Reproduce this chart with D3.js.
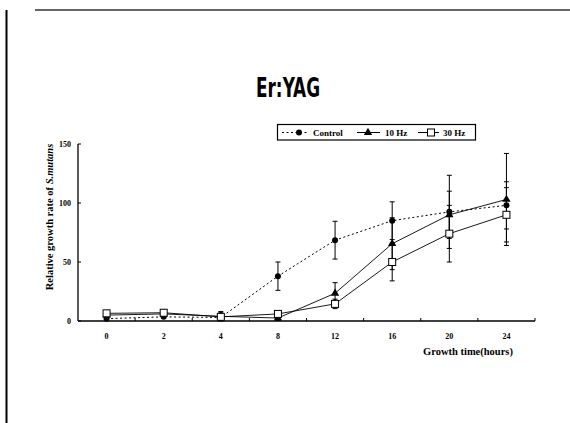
<!DOCTYPE html>
<html lang="en">
<head>
    <meta charset="UTF-8">
    <title>Er:YAG</title>
    <script src="https://d3js.org/d3.v7.min.js"></script>
    <style>
        body { margin: 0; padding: 0; background: #fff; }
        svg { display: block; }
        .tick-label { font-family: "Liberation Serif", serif; font-weight: bold; font-size: 8px; }
        .axis-title { font-family: "Liberation Serif", serif; font-weight: bold; font-size: 10.5px; }
        .legend-text { font-family: "Liberation Serif", serif; font-weight: bold; font-size: 9px; }
    </style>
</head>
<body>
    <div id="chart"></div>

    <script>
        const width = 570;
        const height = 423;

        // data
        const hours = ["0", "2", "4", "8", "12", "16", "20", "24"];
        const control = [2, 3.5, 3, 38, 68.5, 85, 92.5, 98];
        const controlErr = [1, 1, 5, 12, 16, 16, 31, 20];
        const hz10 = [5, 6, 4, 2.5, 23.5, 65.5, 90, 103];
        const hz10Err = [1, 1, 3, 2, 9, 22, 20, 39];
        const hz30 = [6.5, 7, 3.5, 6, 14.5, 50, 74, 90];
        const hz30Err = [1, 1, 2, 1, 4, 16, 24, 23];
        const yTicks = [0, 50, 100, 150];

        const svg = d3.select("#chart")
            .append("svg")
            .attr("width", width)
            .attr("height", height);

        // page frame
        svg.append("line").attr("x1", 35).attr("x2", width).attr("y1", 10).attr("y2", 10)
            .attr("stroke", "#333").attr("stroke-width", 1.5);
        svg.append("line").attr("x1", 6.5).attr("x2", 6.5).attr("y1", 10).attr("y2", height)
            .attr("stroke", "#000").attr("stroke-width", 2);

        // title
        svg.append("text")
            .attr("x", 288).attr("y", 97)
            .attr("text-anchor", "middle")
            .style("font-family", "'Liberation Sans Narrow', 'DejaVu Sans Condensed', sans-serif")
            .style("font-weight", "bold")
            .style("font-size", "26px")
            .attr("textLength", 64)
            .attr("lengthAdjust", "spacingAndGlyphs")
            .text("Er:YAG");

        const x = d3.scaleBand().domain(hours).range([78, 535]);
        const y = d3.scaleLinear().domain([0, 150]).range([321, 144]);
        const cx = d => x(d) + x.bandwidth() / 2;

        // axes
        const g = svg.append("g");
        g.append("line").attr("x1", 78).attr("x2", 535).attr("y1", y(0)).attr("y2", y(0))
            .attr("stroke", "#000").attr("stroke-width", 1.3);
        g.append("line").attr("x1", 78).attr("x2", 78).attr("y1", y(0)).attr("y2", y(150))
            .attr("stroke", "#000").attr("stroke-width", 1.3);

        // x ticks at the band boundaries
        g.selectAll(".xt").data(hours).enter().append("line")
            .attr("x1", d => x(d) + x.bandwidth()).attr("x2", d => x(d) + x.bandwidth())
            .attr("y1", y(0)).attr("y2", y(0) - 3)
            .attr("stroke", "#000");
        g.selectAll(".xl").data(hours).enter().append("text")
            .attr("class", "tick-label")
            .attr("x", cx).attr("y", 339)
            .attr("text-anchor", "middle")
            .text(d => d);

        g.selectAll(".yt").data(yTicks).enter().append("line")
            .attr("x1", 78).attr("x2", 81)
            .attr("y1", d => y(d)).attr("y2", d => y(d))
            .attr("stroke", "#000");
        g.selectAll(".yl").data(yTicks).enter().append("text")
            .attr("class", "tick-label")
            .attr("x", 71).attr("y", d => y(d) + 3)
            .attr("text-anchor", "end")
            .text(d => d);

        // axis titles
        const yTitle = svg.append("text")
            .attr("class", "axis-title")
            .attr("transform", "translate(53,217) rotate(-90)")
            .attr("text-anchor", "middle");
        yTitle.append("tspan").text("Relative growth rate of ");
        yTitle.append("tspan").style("font-style", "italic").text("S.mutans");

        svg.append("text")
            .attr("class", "axis-title")
            .attr("x", 468).attr("y", 355)
            .attr("text-anchor", "middle")
            .text("Growth time(hours)");

        const series = [
            { name: "Control", values: control, err: controlErr, dash: "2,2.5", marker: "circle" },
            { name: "10 Hz", values: hz10, err: hz10Err, dash: null, marker: "triangle" },
            { name: "30 Hz", values: hz30, err: hz30Err, dash: null, marker: "square" }
        ];

        const line = d3.line().x(d => cx(d.h)).y(d => y(d.v));

        function drawMarker(sel, type, px, py) {
            if (type === "circle") {
                sel.append("circle").attr("cx", px).attr("cy", py).attr("r", 3).attr("fill", "#000");
            } else if (type === "triangle") {
                sel.append("path")
                    .attr("d", d3.symbol().type(d3.symbolTriangle).size(30)())
                    .attr("transform", `translate(${px},${py})`)
                    .attr("fill", "#000");
            } else {
                sel.append("rect").attr("x", px - 3.5).attr("y", py - 3.5)
                    .attr("width", 7).attr("height", 7)
                    .attr("fill", "#fff").attr("stroke", "#000").attr("stroke-width", 1);
            }
        }

        series.forEach(s => {
            const pts = hours.map((h, i) => ({ h: h, v: s.values[i], e: s.err[i] }));
            const sg = svg.append("g");

            // error bars
            pts.forEach(p => {
                const px = cx(p.h);
                sg.append("line").attr("x1", px).attr("x2", px)
                    .attr("y1", y(p.v + p.e)).attr("y2", y(Math.max(0, p.v - p.e)))
                    .attr("stroke", "#000").attr("stroke-width", 1);
                [p.v + p.e, Math.max(0, p.v - p.e)].forEach(v => {
                    sg.append("line").attr("x1", px - 2.5).attr("x2", px + 2.5)
                        .attr("y1", y(v)).attr("y2", y(v))
                        .attr("stroke", "#000").attr("stroke-width", 1);
                });
            });

            sg.append("path").datum(pts)
                .attr("d", line)
                .attr("fill", "none")
                .attr("stroke", "#000")
                .attr("stroke-width", s.dash ? 1 : 0.9)
                .attr("stroke-dasharray", s.dash);

            pts.forEach(p => drawMarker(sg, s.marker, cx(p.h), y(p.v)));
        });

        // legend
        const lg = svg.append("g");
        lg.append("rect").attr("x", 277.5).attr("y", 124.5).attr("width", 198).attr("height", 15.5)
            .attr("fill", "#fff").attr("stroke", "#000").attr("stroke-width", 1.2);
        const legendItems = [
            { s: series[0], x1: 282, x2: 308, mx: 299, tx: 313 },
            { s: series[1], x1: 357, x2: 380, mx: 368, tx: 385 },
            { s: series[2], x1: 418, x2: 439, mx: 431, tx: 443 }
        ];
        legendItems.forEach(it => {
            lg.append("line").attr("x1", it.x1).attr("x2", it.x2).attr("y1", 132.5).attr("y2", 132.5)
                .attr("stroke", "#000").attr("stroke-width", 1)
                .attr("stroke-dasharray", it.s.dash);
            drawMarker(lg, it.s.marker, it.mx, 132.5);
            lg.append("text").attr("class", "legend-text")
                .attr("x", it.tx).attr("y", 135.5)
                .text(it.s.name);
        });
    </script>
</body>
</html>
